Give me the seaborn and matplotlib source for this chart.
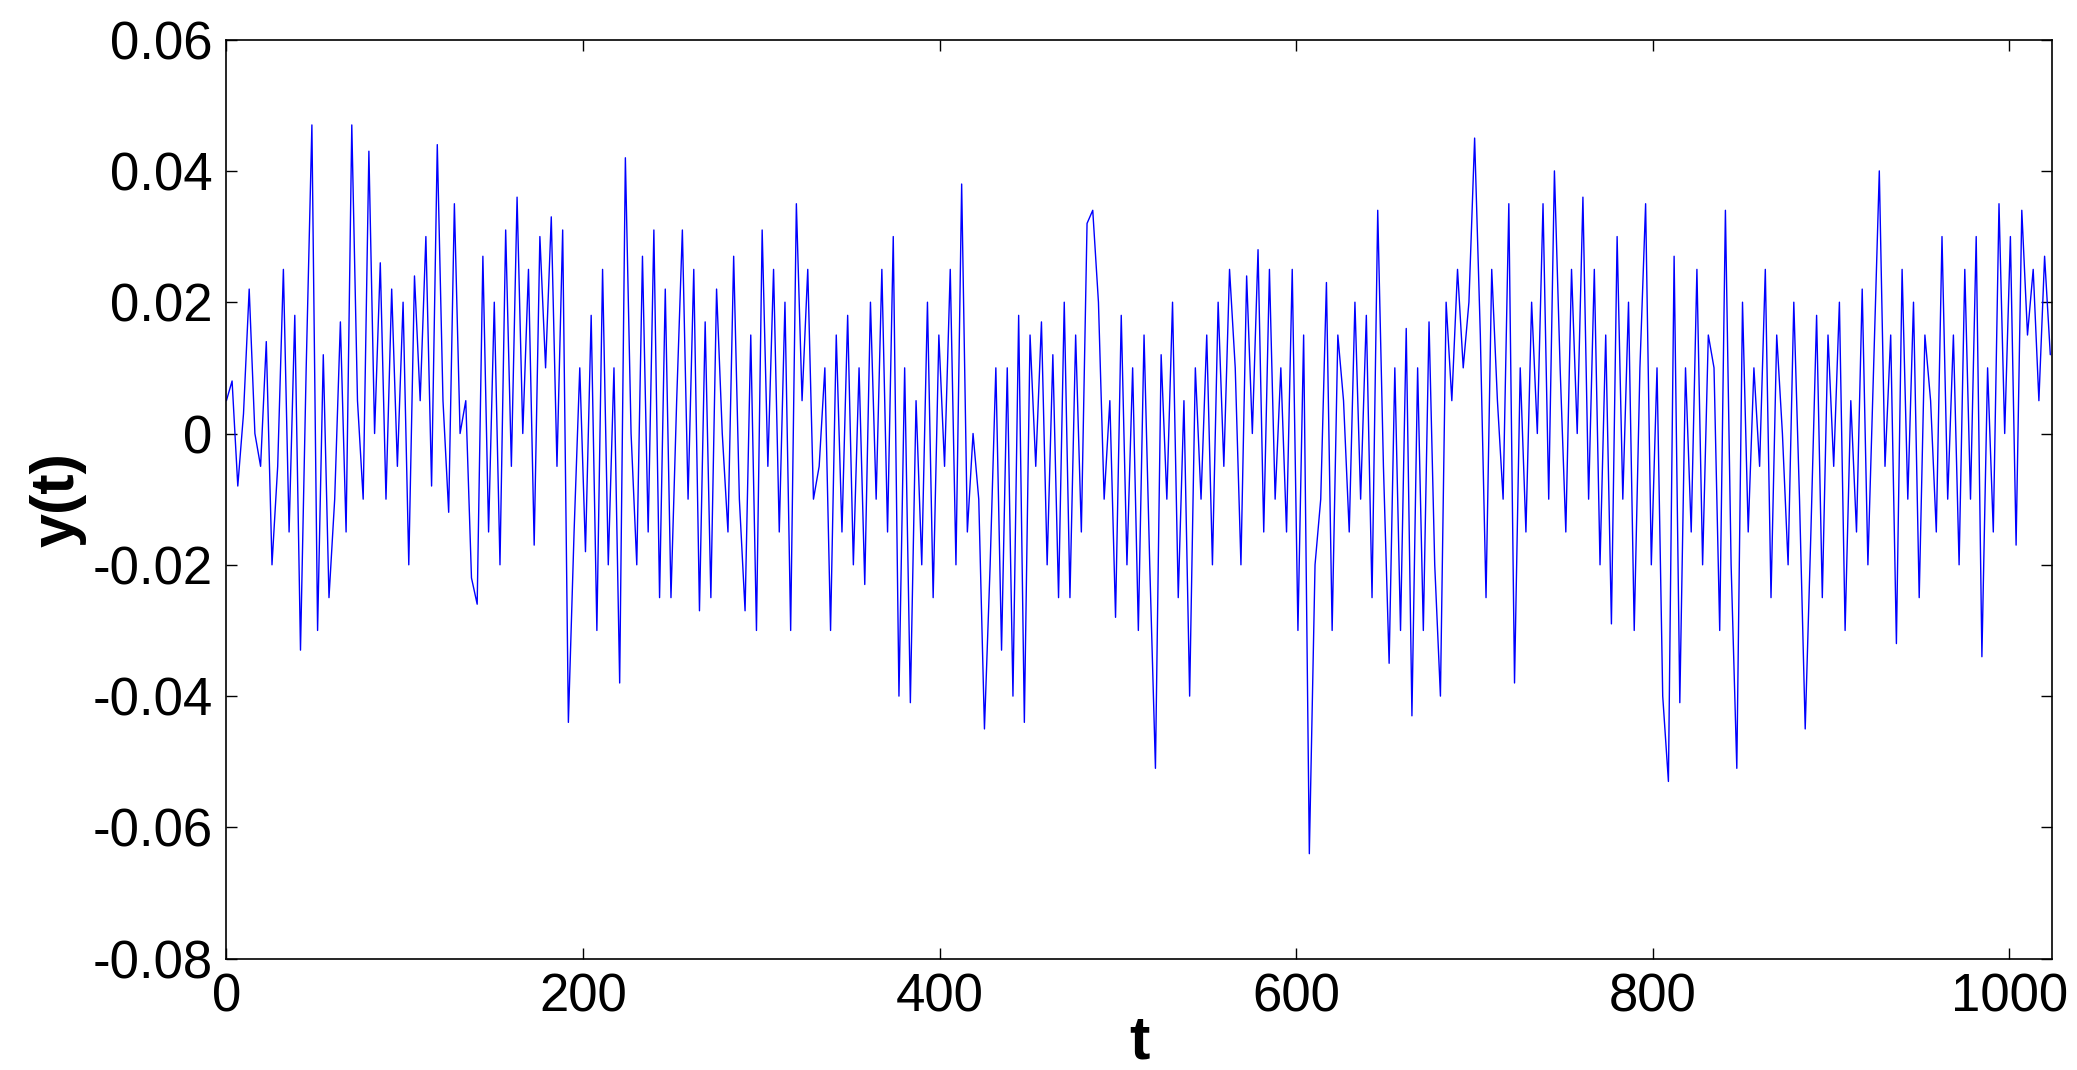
"""
Noise signal y(t) over 1024 samples, Matlab-style line plot.
"""
import numpy as np
import matplotlib

matplotlib.use("Agg")
import matplotlib.pyplot as plt
import seaborn as sns

sns.set_style("ticks")
plt.rcParams["font.family"] = ["Liberation Sans", "DejaVu Sans"]
plt.rcParams["text.color"] = "black"
plt.rcParams["axes.labelcolor"] = "black"
plt.rcParams["xtick.color"] = "black"
plt.rcParams["ytick.color"] = "black"

# ── Values (units of 1e-3), in time order ──
y_milli = [
    5, 8, -8, 3, 22, 0, -5,
    14, -20, -5, 25, -15, 18, -33, 10,
    47, -30, 12, -25, -10, 17, -15,
    47, 5, -10, 43, 0, 26, -10, 22,
    -5, 20, -20, 24, 5, 30, -8,
    44, 5, -12, 35, 0, 5, -22,
    -26, 27, -15, 20, -20, 31, -5,
    36, 0, 25, -17, 30, 10,
    33, -5, 31, -44, -15, 10,
    -18, 18, -30, 25, -20, 10, -38,
    42, 0, -20, 27, -15, 31, -25,
    22, -25, 5, 31, -10, 25, -27,
    17, -25, 22, 0, -15, 27, -10,
    -27, 15, -30, 31, -5, 25, -15,
    20, -30, 35, 5, 25, -10,
    -5, 10, -30, 15, -15, 18, -20,
    10, -23, 20, -10, 25, -15,
    30, -40, 10, -41, 5, -20,
    20, -25, 15, -5, 25, -20,
    38, -15, 0, -10, -45, -20,
    10, -33, 10, -40, 18, -44,
    15, -5, 17, -20, 12, -25,
    20, -25, 15, -15, 32, 34,
    20, -10, 5, -28, 18, -20,
    10, -30, 15, -20, -51, 12,
    -10, 20, -25, 5, -40, 10,
    -10, 15, -20, 20, -5, 25,
    10, -20, 24, 0, 28, -15,
    25, -10, 10, -15, 25, -30,
    15, -64, -20, -10, 23, -30,
    15, 5, -15, 20, -10, 18,
    -25, 34, -5, -35, 10, -30,
    16, -43, 10, -30, 17, -20,
    -40, 20, 5, 25, 10, 20,
    45, 15, -25, 25, 5, -10,
    35, -38, 10, -15, 20, 0,
    35, -10, 40, 10, -15, 25,
    0, 36, -10, 25, -20, 15,
    -29, 30, -10, 20, -30, 10,
    35, -20, 10, -40, -53, 27,
    -41, 10, -15, 25, -20, 15,
    10, -30, 34, -20, -51, 20,
    -15, 10, -5, 25, -25, 15,
    0, -20, 20, -10, -45, -15,
    18, -25, 15, -5, 20, -30,
    5, -15, 22, -20, 10, 40,
    -5, 15, -32, 25, -10, 20,
    -25, 15, 5, -15, 30, -10,
    15, -20, 25, -10, 30, -34,
    10, -15, 35, 0, 30, -17,
    34, 15, 25, 5, 27, 12,
]
y = np.array(y_milli) / 1000.0
t = np.linspace(0, 1023, len(y))

x_ticks = [0, 200, 400, 600, 800, 1000]
y_ticks = [-0.08, -0.06, -0.04, -0.02, 0, 0.02, 0.04, 0.06]
y_tick_labels = ["-0.08", "-0.06", "-0.04", "-0.02", "0", "0.02", "0.04", "0.06"]

fig, ax = plt.subplots(figsize=(20.77, 10.70), dpi=100)
fig.subplots_adjust(left=0.109, right=0.988, top=0.963, bottom=0.104)

sns.lineplot(x=t, y=y, ax=ax, color="#0000ff", linewidth=1.0)

ax.set_xlim(0, 1024)
ax.set_ylim(-0.08, 0.06)
ax.set_xticks(x_ticks)
ax.set_yticks(y_ticks)
ax.set_yticklabels(y_tick_labels)
ax.tick_params(direction="in", length=8, width=1, labelsize=38,
               top=True, right=True, pad=10)
for side in ax.spines.values():
    side.set_linewidth(1.2)
    side.set_color("black")

ax.set_xlabel("t", fontsize=44, fontweight="bold", labelpad=-6)
ax.set_ylabel("y(t)", fontsize=44, fontweight="bold", labelpad=4)

plt.savefig("out.png", dpi=100)
